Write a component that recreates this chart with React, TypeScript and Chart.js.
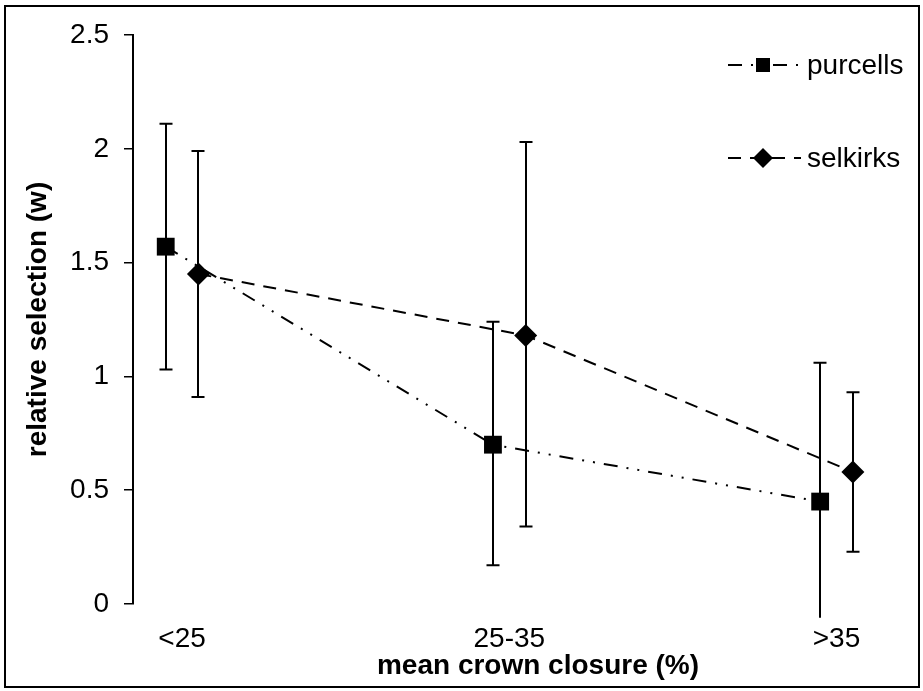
import React, { useEffect, useRef } from 'react';
import { Chart, registerables } from 'chart.js';

Chart.register(...registerables);

// ---- data ----
const categoryPositions = [1, 2, 3];
const categoryLabels = ['<25', '25-35', '>35'];
const seriesNames = ['purcells', 'selkirks'];
const seriesOffsets = [-0.05, 0.05];
const purcellsMean = [1.57, 0.7, 0.45];
const purcellsUpper = [2.11, 1.24, 1.06];
const purcellsLower = [1.03, 0.17, -0.06];
const selkirksMean = [1.45, 1.18, 0.58];
const selkirksUpper = [1.99, 2.03, 0.93];
const selkirksLower = [0.91, 0.34, 0.23];
const yTickValues = [0, 0.5, 1, 1.5, 2, 2.5];
const xTitle = 'mean crown closure (%)';
const yTitle = 'relative selection (w)';

const FONT = "'Liberation Sans', Arial, Helvetica, sans-serif";
const purcellsDash = [14, 9, 2, 9, 2, 9];
const selkirksDash = [13, 9];

const errorSets = [
  { upper: purcellsUpper, lower: purcellsLower },
  { upper: selkirksUpper, lower: selkirksLower },
];

const errorBarPlugin = {
  id: 'errorBars',
  beforeDatasetsDraw(chart: any) {
    const { ctx } = chart;
    const y = chart.scales.y;
    ctx.save();
    ctx.strokeStyle = '#000';
    ctx.lineWidth = 2;
    ctx.setLineDash([]);
    errorSets.forEach((set, di) => {
      const meta = chart.getDatasetMeta(di);
      set.upper.forEach((u, i) => {
        const px = Math.round(meta.data[i].x);
        const pTop = y.getPixelForValue(u);
        const pBot = y.getPixelForValue(set.lower[i]);
        ctx.beginPath();
        ctx.moveTo(px, pTop);
        ctx.lineTo(px, pBot);
        ctx.moveTo(px - 6.5, pTop);
        ctx.lineTo(px + 6.5, pTop);
        if (set.lower[i] >= y.min) {
          ctx.moveTo(px - 6.5, pBot);
          ctx.lineTo(px + 6.5, pBot);
        }
        ctx.stroke();
      });
    });
    ctx.restore();
  },
};

const decorPlugin = {
  id: 'decor',
  afterDraw(chart: any) {
    const { ctx } = chart;
    ctx.save();
    // frame
    ctx.strokeStyle = '#000';
    ctx.lineWidth = 2;
    ctx.setLineDash([]);
    ctx.strokeRect(5, 6, 914, 681);

    // x axis title
    ctx.fillStyle = '#000';
    ctx.font = `bold 28px ${FONT}`;
    ctx.textAlign = 'center';
    ctx.textBaseline = 'middle';
    ctx.fillText(xTitle, 538, 666);

    // legend
    const rows = [
      { y: 65, dash: purcellsDash, style: 'rect', mx: 763 },
      { y: 158, dash: selkirksDash, style: 'diamond', mx: 763 },
    ];
    rows.forEach((r, i) => {
      ctx.strokeStyle = '#000';
      ctx.lineWidth = 2;
      ctx.setLineDash(r.dash);
      ctx.beginPath();
      ctx.moveTo(728, r.y);
      ctx.lineTo(801, r.y);
      ctx.stroke();
      ctx.setLineDash([]);
      ctx.fillStyle = '#000';
      ctx.beginPath();
      if (r.style === 'rect') {
        ctx.rect(r.mx - 7, r.y - 7, 14, 14);
      } else {
        ctx.moveTo(r.mx - 10, r.y);
        ctx.lineTo(r.mx, r.y - 10);
        ctx.lineTo(r.mx + 10, r.y);
        ctx.lineTo(r.mx, r.y + 10);
        ctx.closePath();
      }
      ctx.fill();
      ctx.font = `28px ${FONT}`;
      ctx.textAlign = 'left';
      ctx.textBaseline = 'middle';
      ctx.fillText(seriesNames[i], 807, r.y + 1);
    });
    ctx.restore();
  },
};

export default function App() {
  const ref = useRef<HTMLCanvasElement | null>(null);

  useEffect(() => {
    if (!ref.current) return;
    const chart = new Chart(ref.current, {
      type: 'scatter',
      data: {
        datasets: [
          {
            label: seriesNames[0],
            data: categoryPositions.map((c, i) => ({ x: c + seriesOffsets[0], y: purcellsMean[i] })),
            showLine: true,
            borderColor: '#000',
            backgroundColor: '#000',
            borderWidth: 2,
            borderDash: purcellsDash,
            pointStyle: 'rect',
            pointRadius: 12.6,
            pointBorderWidth: 0,
            pointBackgroundColor: '#000',
            clip: false,
          } as any,
          {
            label: seriesNames[1],
            data: categoryPositions.map((c, i) => ({ x: c + seriesOffsets[1], y: selkirksMean[i] })),
            showLine: true,
            borderColor: '#000',
            backgroundColor: '#000',
            borderWidth: 2,
            borderDash: selkirksDash,
            pointStyle: 'rectRot',
            pointRadius: 11.5,
            pointBorderWidth: 0,
            pointBackgroundColor: '#000',
            clip: false,
          } as any,
        ],
      },
      options: {
        responsive: false,
        animation: false,
        layout: { padding: { left: 0, top: 35, right: 23, bottom: 0 } },
        plugins: {
          legend: { display: false },
          tooltip: { enabled: false },
        },
        scales: {
          x: {
            type: 'linear',
            min: 0.85,
            max: 3.194,
            grid: { display: false },
            border: { display: false },
            afterBuildTicks: (scale: any) => {
              scale.ticks = categoryPositions.map((v) => ({ value: v }));
            },
            afterFit: (scale: any) => {
              scale.height = 87;
            },
            ticks: {
              color: '#000',
              font: { family: FONT, size: 28 },
              padding: 10,
              maxRotation: 0,
              autoSkip: false,
              callback: (v: any) => {
                const idx = categoryPositions.indexOf(Number(v));
                return idx >= 0 ? categoryLabels[idx] : '';
              },
            },
          },
          y: {
            type: 'linear',
            min: 0,
            max: 2.5,
            afterBuildTicks: (scale: any) => {
              scale.ticks = yTickValues.map((v) => ({ value: v }));
            },
            afterFit: (scale: any) => {
              scale.width = 133;
            },
            grid: {
              display: true,
              drawOnChartArea: false,
              drawTicks: true,
              tickLength: 9,
              color: '#000',
              lineWidth: 1.5,
            },
            border: { display: true, color: '#000', width: 2 },
            ticks: {
              color: '#000',
              font: { family: FONT, size: 28 },
              padding: 15,
              autoSkip: false,
              callback: (v: any) => String(v),
            },
            title: {
              display: true,
              text: yTitle,
              color: '#000',
              font: { family: FONT, size: 28, weight: 'bold' },
              padding: { top: 21, bottom: 0 },
            },
          },
        },
      },
      plugins: [errorBarPlugin, decorPlugin],
    });
    return () => chart.destroy();
  }, []);

  return (
    <div style={{ position: 'fixed', left: 0, top: 0, width: 923, height: 691, background: '#fff' }}>
      <canvas ref={ref} width={923} height={691} style={{ display: 'block' }} />
    </div>
  );
}
